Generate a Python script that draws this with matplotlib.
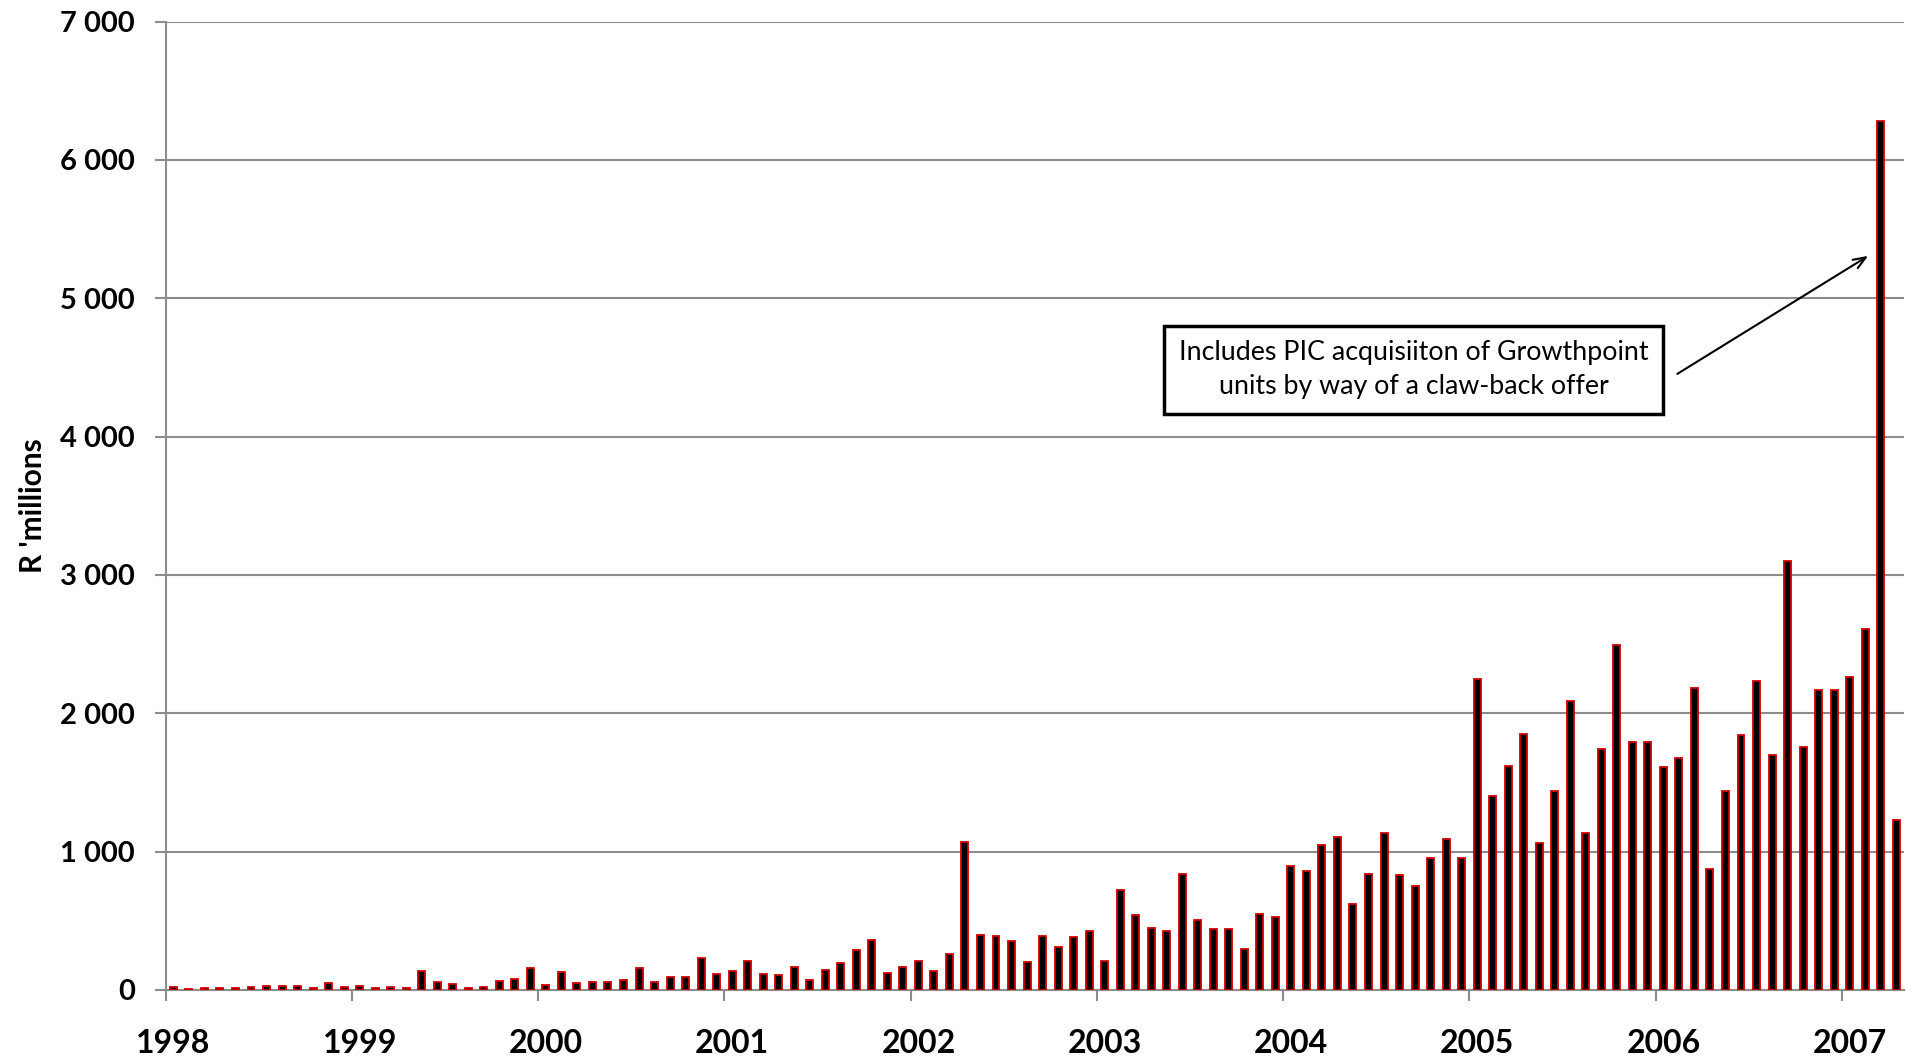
import numpy as np
import matplotlib
matplotlib.use("Agg")
import matplotlib.pyplot as plt
from matplotlib.ticker import FuncFormatter, FixedLocator

plt.rcParams["font.family"] = ["Lato", "DejaVu Sans"]

# Monthly values, R millions (Jan 1998 - Apr 2007).
years = ["1998", "1999", "2000", "2001", "2002", "2003", "2004", "2005", "2006", "2007"]
v1998 = [19, 7, 12, 12, 12, 22, 26, 26, 29, 12, 53, 19]
v1999 = [29, 14, 24, 14, 140, 55, 41, 17, 24, 67, 77, 157]
v2000 = [39, 128, 48, 58, 60, 70, 159, 60, 96, 94, 234, 118]
v2001 = [137, 210, 113, 106, 166, 70, 145, 193, 287, 359, 125, 169]
v2002 = [207, 137, 263, 1068, 398, 388, 352, 205, 393, 313, 386, 429]
v2003 = [212, 721, 545, 446, 429, 839, 506, 439, 439, 296, 547, 525]
v2004 = [894, 863, 1048, 1109, 624, 837, 1138, 834, 752, 951, 1094, 951]
v2005 = [2248, 1399, 1622, 1853, 1066, 1437, 2091, 1133, 1745, 2497, 1794, 1794]
v2006 = [1612, 1680, 2185, 872, 1442, 1841, 2231, 1700, 3103, 1758, 2168, 2172]
v2007 = [2265, 2611, 6279, 1227]

values = v1998 + v1999 + v2000 + v2001 + v2002 + v2003 + v2004 + v2005 + v2006 + v2007
n = len(values)
x = np.arange(n) + 0.5

note = "Includes PIC acquisiiton of Growthpoint\nunits by way of a claw-back offer"

fig = plt.figure(figsize=(19.17, 10.57), dpi=100)
ax = fig.add_axes([0.0864, 0.0634, 0.9068, 0.9161])

ax.bar(x, values, width=0.45, color="black", edgecolor="#d00000", linewidth=1.3, zorder=3)

grey = "#8c8c8c"
ax.set_xlim(0, n)
ax.set_ylim(0, 7000)
ax.set_yticks(np.arange(0, 7001, 1000))
ax.yaxis.set_major_formatter(FuncFormatter(lambda v, p: f"{int(v):,}".replace(",", " ")))
ax.grid(axis="y", color=grey, linewidth=1.5, zorder=0)

# year boundaries carry the tick marks, labels sit under each January bar
ax.xaxis.set_major_locator(FixedLocator(np.arange(0, n, 12)))
ax.xaxis.set_minor_locator(FixedLocator(np.arange(0, n, 12) + 0.5))
ax.set_xticklabels([])
ax.set_xticklabels(years, minor=True)
ax.tick_params(axis="x", which="major", length=8, width=1.5, color=grey)
ax.tick_params(axis="x", which="minor", length=0, pad=28, labelsize=23)
ax.tick_params(axis="y", length=8, width=1.5, color=grey, pad=14, labelsize=21)
for lab in ax.get_xticklabels(minor=True) + ax.get_yticklabels():
    lab.set_fontweight("bold")

for side in ["top", "right"]:
    ax.spines[side].set_visible(False)
for side in ["left", "bottom"]:
    ax.spines[side].set_color(grey)
    ax.spines[side].set_linewidth(1.5)

ax.set_ylabel("R 'millions", fontsize=21.5, fontweight="bold")
ax.yaxis.set_label_coords(-0.068, 0.5)

ax.text(80.4, 4482, note, ha="center", va="center", fontsize=19.3, linespacing=1.45,
        bbox=dict(boxstyle="square,pad=0.55", facecolor="white", edgecolor="black", linewidth=2.5),
        zorder=5)
ax.annotate("", xy=(109.7, 5307), xytext=(97.4, 4454),
            arrowprops=dict(arrowstyle="->,head_length=0.9,head_width=0.35", color="black",
                            linewidth=1.5, shrinkA=0, shrinkB=0), zorder=5)

fig.savefig("out.png", dpi=100, facecolor="white")
